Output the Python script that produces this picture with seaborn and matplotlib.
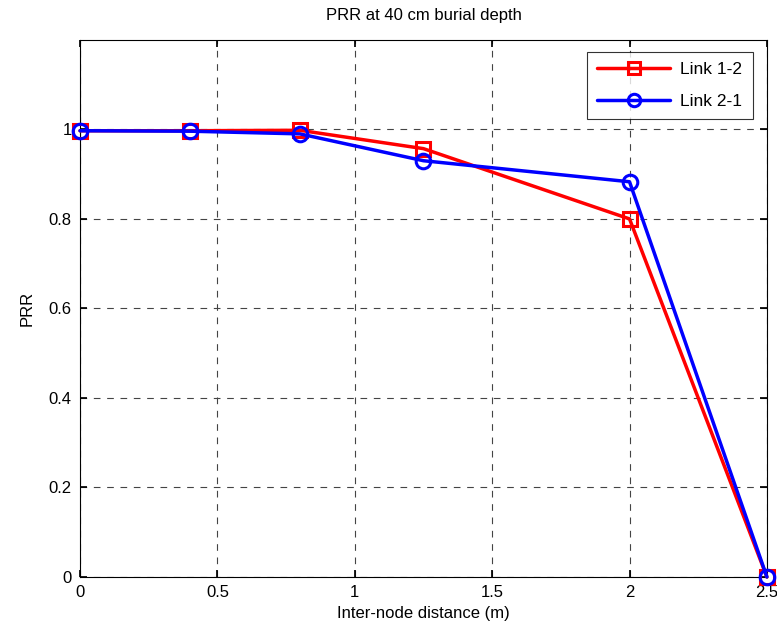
import matplotlib
matplotlib.use("Agg")
import matplotlib.pyplot as plt
import seaborn as sns
import pandas as pd

distance = [0, 0.4, 0.8, 1.25, 2.0, 2.5]
link_12 = [0.997, 0.997, 0.998, 0.957, 0.800, 0.0]
link_21 = [0.997, 0.996, 0.990, 0.930, 0.883, 0.0]
series_names = ["Link 1-2", "Link 2-1"]
x_ticks = [0, 0.5, 1, 1.5, 2, 2.5]
x_tick_labels = ["0", "0.5", "1", "1.5", "2", "2.5"]
y_ticks = [0, 0.2, 0.4, 0.6, 0.8, 1.0]
y_tick_labels = ["0", "0.2", "0.4", "0.6", "0.8", "1"]

sns.set_theme(style="white")
plt.rcParams["font.family"] = ["Liberation Sans", "DejaVu Sans"]
plt.rcParams["text.color"] = "black"
plt.rcParams["axes.labelcolor"] = "black"

df = pd.DataFrame({
    "distance": distance * 2,
    "PRR": link_12 + link_21,
    "link": [series_names[0]] * len(distance) + [series_names[1]] * len(distance),
})

fig = plt.figure(figsize=(7.77, 6.33), dpi=100)
ax = fig.add_axes([0.103, 0.0885, 0.884, 0.8485])

styles = {series_names[0]: ("#ff0000", "s"), series_names[1]: ("#0000ff", "o")}
for name in series_names:
    color, marker = styles[name]
    sub = df[df["link"] == name]
    sns.lineplot(data=sub, x="distance", y="PRR", ax=ax, color=color,
                 marker=marker, markersize=10.5, markerfacecolor="none",
                 markeredgecolor=color, markeredgewidth=2.2, linewidth=2.5,
                 label=name, clip_on=False, zorder=3)

ax.set_xlim(0, 2.5)
ax.set_ylim(0, 1.2)
ax.set_xticks(x_ticks)
ax.set_xticklabels(x_tick_labels)
ax.set_yticks(y_ticks)
ax.set_yticklabels(y_tick_labels)
ax.tick_params(direction="in", length=5, labelsize=12, colors="black",
               labelcolor="black",
               top=True, right=True, bottom=True, left=True, pad=6)
ax.grid(True, linestyle=(0, (6, 6)), color="#444444", linewidth=0.8)
for s in ax.spines.values():
    s.set_color("black")
    s.set_linewidth(0.8)
    s.set_visible(True)

ax.set_title("PRR at 40 cm burial depth", fontsize=12, pad=14, color="black")
ax.set_xlabel("Inter-node distance (m)", fontsize=12, labelpad=4, color="black")
ax.set_ylabel("PRR", fontsize=12, labelpad=10, color="black")

leg = ax.legend(loc="upper right", fontsize=12.5, frameon=True, fancybox=False,
                edgecolor="black", borderpad=0.6, handlelength=4.2,
                handletextpad=0.6, labelspacing=0.95, borderaxespad=0,
                markerscale=0.85,
                bbox_to_anchor=(0.9796, 0.9777))
leg.get_frame().set_linewidth(0.8)
for t in leg.get_texts():
    t.set_color("black")

fig.savefig("out.png", dpi=100)
